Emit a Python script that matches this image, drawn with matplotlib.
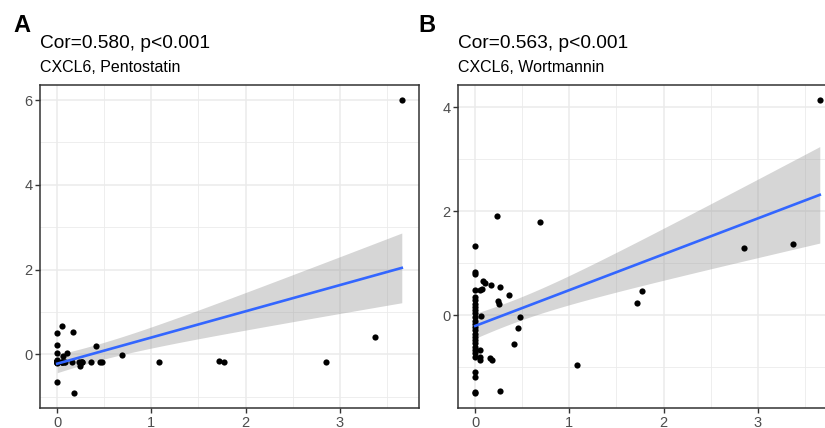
import numpy as np
import matplotlib
matplotlib.use("Agg")
import matplotlib.pyplot as plt

plt.rcParams["font.family"] = ["Liberation Sans", "DejaVu Sans"]

# shared CXCL6 expression (x) with drug sensitivity for each panel
cxcl6 = [3.66, 3.38, 2.85, 1.77, 1.72, 1.08, 0.69, 0.48, 0.45, 0.41,
         0.36, 0.26, 0.26, 0.24, 0.23, 0.25, 0.17, 0.16, 0.18, 0.08,
         0.10, 0.05, 0.06, 0.05, 0.05, 0.05, 0.07,
         0, 0, 0, 0, 0, 0, 0, 0, 0, 0, 0, 0, 0, 0, 0, 0, 0, 0, 0, 0,
         0, 0, 0, 0, 0, 0, 0]
pentostatin = [6.01, 0.41, -0.17, -0.17, -0.16, -0.17, -0.02, -0.17, -0.17, 0.20,
               -0.17, -0.17, -0.17, -0.27, -0.17, -0.17, 0.52, -0.17, -0.92, -0.17,
               0.04, 0.66, -0.04, -0.17, -0.17, -0.17, -0.17,
               0.51, 0.22, 0.02, -0.66, -0.17, -0.17, -0.15, -0.17, -0.19, -0.17,
               -0.17, -0.14, -0.17, -0.18, -0.17, -0.16, -0.17, -0.17, -0.20, -0.17,
               -0.17, -0.15, -0.17, -0.17, -0.18, -0.17, -0.17]
wortmannin = [4.15, 1.37, 1.30, 0.47, 0.24, -0.96, 1.79, -0.03, -0.24, -0.56,
              0.40, 0.54, -1.45, 0.27, 1.92, 0.21, 0.59, -0.83, -0.85, 0.66,
              0.62, 0.49, -0.02, -0.67, -0.80, -0.86, 0.50,
              1.34, 0.83, 0.80, 0.48, 0.35, 0.29, 0.22, 0.16, 0.10, 0.04,
              -0.04, -0.10, -0.16, -0.22, -0.29, -0.35, -0.42, -0.48, -0.54, -0.61,
              -0.67, -0.73, -0.80, -1.09, -1.18, -1.47, -1.50]

panels = [
    ("A", "Cor=0.580, p<0.001", "CXCL6, Pentostatin", pentostatin, [0, 2, 4, 6]),
    ("B", "Cor=0.563, p<0.001", "CXCL6, Wortmannin", wortmannin, [0, 2, 4]),
]

W, H = 825, 428
fig = plt.figure(figsize=(W / 100, H / 100), dpi=100)

# left spine pixel, label x pixel
lefts = [(40, 13), (458, 418)]
top, bottom = 85, 408
width = 379


def px_axes(l, t, w, h):
    return [l / W, 1 - (t + h) / H, w / W, h / H]


for (tag, title, sub, y, yticks), (lx, tx) in zip(panels, lefts):
    x = np.array(cxcl6, float)
    y = np.array(y, float)
    ax = fig.add_axes(px_axes(lx, top, width, bottom - top))

    # linear fit with 95% CI (as geom_smooth(method="lm"))
    n = len(x)
    b, a = np.polyfit(x, y, 1)
    xs = np.linspace(x.min(), x.max(), 100)
    fit = a + b * xs
    resid = y - (a + b * x)
    s = np.sqrt(np.sum(resid ** 2) / (n - 2))
    sxx = np.sum((x - x.mean()) ** 2)
    se = s * np.sqrt(1 / n + (xs - x.mean()) ** 2 / sxx)
    t = 2.007
    ax.fill_between(xs, fit - t * se, fit + t * se, color="#999999", alpha=0.4,
                    lw=0, zorder=2)
    ax.scatter(x, y, s=20, color="black", lw=0, zorder=3)
    ax.plot(xs, fit, color="#3366FF", lw=1.9, zorder=4)

    ax.set_xticks([0, 1, 2, 3])
    ax.set_yticks(yticks)
    ax.set_xticks([0.5, 1.5, 2.5, 3.5], minor=True)
    ax.set_yticks([v + 1 for v in range(-2, 6, 2)], minor=True)
    xr = x.max() - x.min()
    yr = y.max() - y.min()
    ax.set_xlim(x.min() - 0.05 * xr, x.max() + 0.05 * xr)
    ax.set_ylim(y.min() - 0.05 * yr, y.max() + 0.05 * yr)
    ax.grid(True, which="major", color="#EBEBEB", lw=1.1, zorder=0)
    ax.grid(True, which="minor", color="#EBEBEB", lw=0.6, zorder=0)
    ax.set_axisbelow(True)
    ax.tick_params(which="minor", length=0)
    ax.tick_params(which="major", length=3.5, width=1, color="#333333",
                   labelcolor="#4D4D4D", labelsize=10.5, pad=2)
    for sp in ax.spines.values():
        sp.set_color("#333333")
        sp.set_linewidth(1.1)

    fig.text(tx / W, 1 - 32 / H, tag, fontsize=17, fontweight="bold",
             ha="left", va="baseline")
    fig.text(lx / W, 1 - 48 / H, title, fontsize=13.8, ha="left", va="baseline")
    fig.text(lx / W, 1 - 72.5 / H, sub, fontsize=11.5, ha="left", va="baseline")

fig.savefig("out.png", dpi=100)
